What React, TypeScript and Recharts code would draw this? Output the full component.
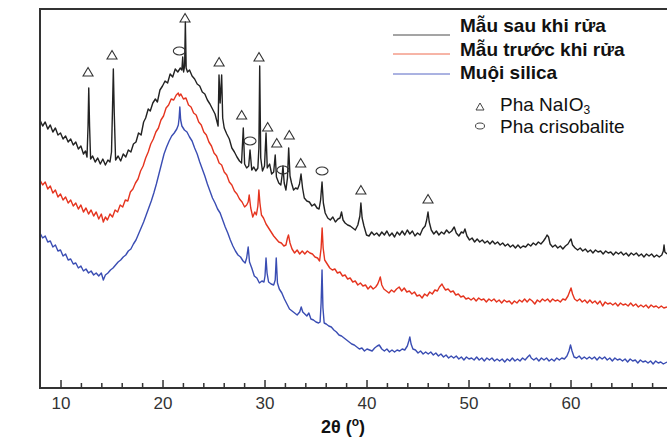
import { ComposedChart, Line, Scatter, XAxis, YAxis, Label } from "recharts";

// 2θ (deg) / intensity (arb. counts)
const sauKhiRua = [
  [7.94, 268], [8.2, 262], [8.45, 266], [8.7, 259], [8.95, 263], [9.2, 256], [9.45, 260], [9.7, 253], [9.95, 255],
  [10.2, 249], [10.45, 252], [10.7, 246], [10.95, 249], [11.2, 243], [11.45, 246], [11.7, 239], [11.95, 242],
  [12.2, 234], [12.4, 237], [12.55, 231], [12.65, 262], [12.72, 300], [12.8, 262], [12.9, 229], [13.1, 232],
  [13.35, 226], [13.6, 230], [13.85, 224], [14.1, 229], [14.35, 223], [14.6, 228], [14.8, 226], [14.95, 236],
  [15.05, 280], [15.13, 319], [15.22, 275], [15.35, 228], [15.6, 232], [15.85, 227], [16.1, 234], [16.35, 231],
  [16.6, 238], [16.85, 236], [17.1, 244], [17.35, 246], [17.6, 255], [17.85, 253], [18.1, 266], [18.3, 270],
  [18.55, 279], [18.75, 277], [19.0, 285], [19.25, 289], [19.45, 286], [19.7, 298], [19.95, 302], [20.2, 307],
  [20.45, 305], [20.7, 314], [20.95, 311], [21.2, 319], [21.45, 316], [21.7, 320], [21.85, 318], [21.93, 331],
  [22.02, 316], [22.12, 322], [22.19, 366], [22.27, 320], [22.4, 316], [22.6, 318], [22.85, 312], [23.1, 309],
  [23.35, 304], [23.6, 302], [23.85, 296], [24.1, 294], [24.35, 288], [24.6, 284], [24.85, 279], [25.1, 274],
  [25.3, 266], [25.4, 262], [25.49, 313], [25.6, 285], [25.75, 313], [25.85, 270], [26.0, 260], [26.25, 254],
  [26.5, 249], [26.75, 240], [27.0, 236], [27.25, 231], [27.5, 227], [27.7, 225], [27.87, 260], [28.0, 224],
  [28.2, 220], [28.4, 222], [28.53, 238], [28.7, 218], [28.9, 221], [29.1, 217], [29.3, 220], [29.4, 240],
  [29.48, 322], [29.58, 230], [29.75, 217], [29.95, 222], [30.1, 255], [30.22, 220], [30.45, 224], [30.65, 214],
  [30.85, 216], [31.0, 233], [31.12, 211], [31.35, 205], [31.55, 203], [31.68, 213], [31.76, 222], [31.88, 205],
  [32.05, 198], [32.2, 210], [32.32, 240], [32.45, 212], [32.6, 205], [32.8, 198], [33.0, 200], [33.2, 199],
  [33.38, 204], [33.53, 214], [33.68, 200], [33.85, 190], [34.1, 187], [34.35, 186], [34.6, 182], [34.85, 184],
  [35.1, 180], [35.3, 179], [35.45, 188], [35.59, 206], [35.72, 185], [35.9, 175], [36.15, 170], [36.4, 168],
  [36.65, 171], [36.9, 166], [37.15, 169], [37.35, 170], [37.5, 176], [37.65, 168], [37.85, 165], [38.1, 163],
  [38.35, 162], [38.6, 160], [38.85, 158], [39.1, 163], [39.3, 172], [39.4, 185], [39.52, 170], [39.7, 162],
  [39.95, 153], [40.2, 152], [40.45, 156], [40.7, 153], [40.95, 155], [41.2, 152], [41.45, 156], [41.7, 153],
  [41.95, 157], [42.2, 152], [42.45, 155], [42.7, 151], [42.95, 156], [43.2, 153], [43.45, 157], [43.7, 153],
  [43.95, 158], [44.2, 154], [44.45, 157], [44.7, 152], [44.95, 155], [45.2, 153], [45.45, 159], [45.7, 162],
  [45.85, 168], [45.98, 176], [46.1, 166], [46.3, 158], [46.55, 154], [46.8, 157], [47.05, 153], [47.3, 156],
  [47.55, 154], [47.8, 158], [48.05, 155], [48.3, 157], [48.55, 161], [48.75, 155], [49.0, 152], [49.25, 156],
  [49.45, 155], [49.6, 159], [49.8, 152], [50.05, 148], [50.3, 150], [50.55, 146], [50.8, 149], [51.05, 146],
  [51.3, 148], [51.55, 145], [51.8, 147], [52.05, 144], [52.3, 147], [52.55, 144], [52.8, 146], [53.05, 143],
  [53.3, 145], [53.55, 142], [53.8, 144], [54.05, 141], [54.3, 143], [54.55, 140], [54.8, 143], [55.05, 140],
  [55.3, 142], [55.55, 141], [55.8, 144], [56.05, 142], [56.3, 145], [56.55, 143], [56.8, 146], [57.05, 144],
  [57.3, 147], [57.5, 150], [57.65, 153], [57.8, 151], [57.95, 144], [58.2, 141], [58.45, 143], [58.7, 140],
  [58.95, 142], [59.2, 139], [59.45, 142], [59.7, 144], [59.87, 147], [60.0, 149], [60.15, 143], [60.4, 140],
  [60.65, 138], [60.9, 140], [61.15, 137], [61.4, 139], [61.65, 136], [61.9, 138], [62.15, 135], [62.4, 138],
  [62.65, 136], [62.9, 137], [63.15, 134], [63.4, 137], [63.65, 135], [63.9, 136], [64.15, 133], [64.4, 136],
  [64.65, 134], [64.9, 136], [65.15, 133], [65.4, 135], [65.65, 132], [65.9, 135], [66.15, 133], [66.4, 135],
  [66.65, 132], [66.9, 134], [67.15, 131], [67.4, 134], [67.65, 132], [67.9, 134], [68.15, 131], [68.4, 133],
  [68.65, 131], [68.9, 133], [69.05, 137], [69.12, 143], [69.2, 136], [69.41, 134],
];

const truocKhiRua = [
  [7.94, 208], [8.2, 203], [8.45, 206], [8.7, 199], [8.95, 202], [9.2, 195], [9.45, 198], [9.7, 191], [9.95, 194],
  [10.2, 188], [10.45, 191], [10.7, 185], [10.95, 188], [11.2, 182], [11.45, 185], [11.7, 179], [11.95, 183],
  [12.2, 176], [12.45, 180], [12.7, 174], [12.95, 178], [13.2, 172], [13.45, 176], [13.7, 169], [13.95, 174],
  [14.15, 166], [14.35, 171], [14.55, 168], [14.8, 174], [15.05, 171], [15.3, 178], [15.55, 176], [15.8, 183],
  [16.05, 181], [16.3, 188], [16.55, 187], [16.8, 196], [17.05, 199], [17.3, 205], [17.55, 209], [17.8, 217],
  [18.05, 222], [18.3, 230], [18.55, 236], [18.8, 244], [19.05, 249], [19.3, 256], [19.55, 260], [19.8, 268],
  [20.05, 272], [20.3, 280], [20.55, 283], [20.8, 289], [21.05, 288], [21.3, 293], [21.5, 295], [21.6, 292],
  [21.75, 294], [22.0, 289], [22.25, 290], [22.5, 283], [22.75, 281], [23.0, 275], [23.25, 273], [23.5, 266],
  [23.75, 263], [24.0, 256], [24.25, 253], [24.5, 246], [24.75, 242], [25.0, 235], [25.25, 232], [25.5, 225],
  [25.75, 223], [26.0, 216], [26.25, 213], [26.5, 206], [26.75, 203], [27.0, 197], [27.25, 194], [27.5, 189],
  [27.75, 186], [28.0, 181], [28.2, 183], [28.35, 186], [28.45, 193], [28.6, 180], [28.8, 171], [29.0, 176],
  [29.15, 173], [29.3, 182], [29.4, 198], [29.5, 185], [29.65, 173], [29.85, 170], [30.1, 164], [30.35, 160],
  [30.6, 156], [30.85, 152], [31.1, 149], [31.35, 146], [31.6, 145], [31.85, 142], [32.05, 143], [32.2, 150],
  [32.3, 153], [32.45, 145], [32.65, 139], [32.9, 135], [33.15, 138], [33.4, 134], [33.65, 137], [33.9, 134],
  [34.15, 137], [34.4, 135], [34.65, 134], [34.9, 131], [35.15, 130], [35.35, 127], [35.5, 140], [35.6, 160],
  [35.7, 140], [35.85, 128], [36.1, 124], [36.35, 120], [36.6, 118], [36.85, 119], [37.1, 115], [37.35, 116],
  [37.6, 112], [37.85, 113], [38.1, 109], [38.35, 110], [38.6, 106], [38.85, 107], [39.1, 103], [39.35, 105],
  [39.6, 102], [39.85, 103], [40.1, 99], [40.35, 102], [40.6, 99], [40.85, 101], [41.05, 104], [41.2, 108],
  [41.3, 111], [41.45, 103], [41.65, 99], [41.9, 97], [42.15, 95], [42.4, 98], [42.65, 96], [42.9, 99],
  [43.15, 101], [43.4, 97], [43.65, 100], [43.9, 96], [44.15, 97], [44.4, 94], [44.65, 96], [44.9, 92],
  [45.15, 93], [45.4, 90], [45.65, 94], [45.9, 92], [46.15, 96], [46.4, 94], [46.65, 98], [46.9, 97],
  [47.1, 101], [47.35, 104], [47.5, 101], [47.7, 98], [47.95, 99], [48.2, 96], [48.45, 97], [48.7, 93],
  [48.95, 94], [49.2, 91], [49.45, 92], [49.7, 89], [49.95, 90], [50.2, 88], [50.45, 90], [50.7, 87],
  [50.95, 90], [51.2, 88], [51.45, 89], [51.7, 86], [51.95, 89], [52.2, 87], [52.45, 89], [52.7, 86],
  [52.95, 88], [53.2, 85], [53.45, 88], [53.7, 86], [53.95, 87], [54.2, 84], [54.45, 87], [54.7, 85],
  [54.95, 88], [55.2, 86], [55.45, 89], [55.7, 86], [55.95, 89], [56.2, 87], [56.45, 84], [56.7, 88],
  [56.95, 86], [57.2, 89], [57.45, 87], [57.7, 89], [57.95, 86], [58.2, 89], [58.45, 87], [58.7, 88],
  [58.95, 86], [59.2, 89], [59.45, 88], [59.7, 92], [59.85, 96], [60.0, 100], [60.15, 94], [60.35, 89],
  [60.6, 87], [60.85, 89], [61.1, 86], [61.35, 88], [61.6, 85], [61.85, 88], [62.1, 85], [62.35, 87],
  [62.6, 84], [62.85, 87], [63.1, 82], [63.35, 86], [63.6, 84], [63.85, 85], [64.1, 83], [64.35, 85],
  [64.6, 82], [64.85, 85], [65.1, 83], [65.35, 84], [65.6, 82], [65.85, 85], [66.1, 82], [66.35, 84],
  [66.6, 81], [66.85, 83], [67.1, 81], [67.35, 83], [67.6, 80], [67.85, 83], [68.1, 81], [68.35, 82],
  [68.6, 80], [68.85, 82], [69.1, 80], [69.41, 81],
];

const muoiSilica = [
  [7.94, 155], [8.2, 150], [8.45, 152], [8.7, 146], [8.95, 147], [9.2, 141], [9.45, 143], [9.7, 137], [9.95, 138],
  [10.2, 132], [10.45, 134], [10.7, 128], [10.95, 129], [11.2, 124], [11.45, 125], [11.7, 120], [11.95, 122],
  [12.2, 117], [12.45, 119], [12.7, 115], [12.95, 117], [13.2, 113], [13.45, 115], [13.7, 112], [13.95, 115],
  [14.15, 108], [14.35, 113], [14.6, 115], [14.85, 118], [15.1, 120], [15.35, 123], [15.6, 126], [15.85, 128],
  [16.1, 131], [16.35, 133], [16.6, 137], [16.85, 139], [17.1, 144], [17.35, 148], [17.6, 154], [17.85, 160],
  [18.1, 166], [18.35, 173], [18.6, 180], [18.85, 187], [19.1, 195], [19.35, 204], [19.6, 214], [19.85, 224],
  [20.1, 234], [20.35, 241], [20.6, 247], [20.85, 252], [21.1, 255], [21.35, 259], [21.5, 263], [21.58, 270],
  [21.65, 281], [21.73, 268], [21.85, 262], [22.1, 258], [22.35, 256], [22.6, 251], [22.85, 247], [23.1, 240],
  [23.35, 234], [23.6, 226], [23.85, 219], [24.1, 212], [24.35, 204], [24.6, 197], [24.85, 190], [25.1, 185],
  [25.35, 179], [25.6, 175], [25.85, 168], [26.1, 161], [26.35, 155], [26.6, 148], [26.85, 142], [27.1, 137],
  [27.35, 133], [27.6, 131], [27.85, 127], [28.05, 125], [28.2, 130], [28.35, 141], [28.48, 126], [28.7, 120],
  [28.95, 112], [29.2, 110], [29.45, 105], [29.7, 107], [29.9, 106], [30.0, 112], [30.1, 130], [30.2, 115],
  [30.35, 106], [30.6, 104], [30.85, 103], [31.0, 108], [31.1, 130], [31.22, 105], [31.4, 99], [31.65, 95],
  [31.9, 89], [32.15, 84], [32.4, 79], [32.65, 77], [32.9, 75], [33.15, 73], [33.4, 76], [33.55, 81],
  [33.7, 76], [33.9, 74], [34.1, 72], [34.3, 75], [34.5, 69], [34.75, 68], [35.0, 66], [35.25, 65],
  [35.4, 66], [35.5, 85], [35.59, 118], [35.68, 80], [35.8, 65], [36.0, 64], [36.25, 62], [36.5, 61],
  [36.75, 58], [37.0, 56], [37.25, 53], [37.5, 52], [37.75, 50], [38.0, 48], [38.25, 46], [38.5, 44],
  [38.75, 43], [39.0, 41], [39.25, 39], [39.5, 40], [39.75, 37], [40.0, 39], [40.25, 38], [40.5, 37],
  [40.75, 40], [41.0, 42], [41.2, 43], [41.45, 39], [41.7, 37], [41.95, 39], [42.2, 36], [42.45, 38],
  [42.7, 36], [42.95, 38], [43.2, 37], [43.45, 39], [43.7, 38], [43.95, 42], [44.1, 47], [44.2, 51],
  [44.32, 44], [44.5, 39], [44.75, 38], [45.0, 35], [45.25, 37], [45.5, 34], [45.75, 36], [46.0, 34],
  [46.25, 36], [46.5, 33], [46.75, 35], [47.0, 32], [47.25, 34], [47.5, 31], [47.75, 33], [48.0, 30],
  [48.25, 32], [48.5, 30], [48.75, 32], [49.0, 29], [49.25, 31], [49.5, 28], [49.75, 31], [50.0, 29],
  [50.25, 30], [50.5, 28], [50.75, 31], [51.0, 28], [51.25, 30], [51.5, 27], [51.75, 30], [52.0, 28],
  [52.25, 30], [52.5, 27], [52.75, 29], [53.0, 27], [53.25, 29], [53.5, 26], [53.75, 29], [54.0, 27],
  [54.25, 30], [54.5, 27], [54.75, 29], [55.0, 27], [55.25, 30], [55.5, 28], [55.75, 31], [55.95, 33],
  [56.1, 30], [56.35, 28], [56.6, 30], [56.85, 27], [57.1, 30], [57.35, 28], [57.6, 30], [57.85, 27],
  [58.1, 29], [58.35, 27], [58.6, 30], [58.85, 28], [59.1, 30], [59.35, 29], [59.6, 32], [59.8, 37],
  [59.95, 43], [60.1, 37], [60.3, 31], [60.55, 30], [60.8, 32], [61.05, 29], [61.3, 31], [61.55, 29],
  [61.8, 31], [62.05, 29], [62.3, 31], [62.55, 28], [62.8, 31], [63.05, 29], [63.3, 31], [63.55, 28],
  [63.8, 30], [64.05, 27], [64.3, 30], [64.55, 28], [64.8, 29], [65.05, 27], [65.3, 29], [65.55, 26],
  [65.8, 29], [66.05, 27], [66.3, 28], [66.55, 25], [66.8, 28], [67.05, 26], [67.3, 27], [67.55, 25],
  [67.8, 27], [68.05, 24], [68.3, 27], [68.55, 25], [68.8, 26], [69.05, 24], [69.41, 26],
];

// phase markers above the peaks
const naio3Marks = [
  [12.65, 316], [15.0, 333], [22.16, 370], [25.5, 326], [27.71, 273], [29.41, 331],
  [30.26, 261], [31.15, 245], [32.38, 253], [33.5, 225], [39.4, 198], [45.98, 189],
];
const crisoMarks = [[21.6, 337], [28.53, 247], [31.76, 218], [35.59, 217]];

const majorTicks = [10, 20, 30, 40, 50, 60];
const xTicks = [10, 12, 14, 16, 18, 20, 22, 24, 26, 28, 30, 32, 34, 36, 38, 40, 42, 44, 46, 48, 50, 52, 54, 56, 58, 60, 62, 64, 66, 68];

const series = [
  { key: "sau", label: "Mẫu sau khi rửa", color: "#222222", legend: "#4a4a4a", data: sauKhiRua },
  { key: "truoc", label: "Mẫu trước khi rửa", color: "#e5341f", legend: "#ee6a4e", data: truocKhiRua },
  { key: "silica", label: "Muội silica", color: "#3a4db3", legend: "#5667c4", data: muoiSilica },
];

const font = "'Liberation Sans', Arial, sans-serif";
const toPoints = (rows: number[][]) => rows.map(([x, y]) => ({ x, y }));

function AxisTick({ x, y, payload }: any) {
  const major = majorTicks.includes(payload.value);
  return (
    <g>
      <line x1={x} x2={x} y1={y} y2={y - (major ? 8 : 5)} stroke="#333" strokeWidth={1.5} />
      {major && (
        <text x={x} y={y + 21} textAnchor="middle" fontSize={17} fontFamily={font} fill="#333">{payload.value}</text>
      )}
    </g>
  );
}

function Triangle({ cx, cy }: any) {
  return <polygon points={`${cx},${cy - 4.5} ${cx + 5},${cy + 4} ${cx - 5},${cy + 4}`} fill="none" stroke="#333" strokeWidth={1.1} />;
}

function Ellipse({ cx, cy }: any) {
  return <ellipse cx={cx} cy={cy} rx={6} ry={4} fill="none" stroke="#333" strokeWidth={1.1} />;
}

function Overlay() {
  const lines = [35, 54, 74];
  const baselines = [32, 55.5, 79];
  return (
    <svg width={667} height={437} style={{ position: "absolute", left: 0, top: 0, pointerEvents: "none" }}>
      {/* plot frame: left and top edges */}
      <line x1={40} x2={667} y1={9} y2={9} stroke="#333" strokeWidth={2} />
      <line x1={40} x2={40} y1={8} y2={389} stroke="#333" strokeWidth={2} />
      {series.map((s, i) => (
        <g key={s.key}>
          <line x1={393} x2={450} y1={lines[i]} y2={lines[i]} stroke={s.legend} strokeWidth={1} />
          <text x={460} y={baselines[i]} fontSize={19} fontWeight="bold" fontFamily={font} fill="#111">{s.label}</text>
        </g>
      ))}
      <polygon points="480,103 484,110 476,110" fill="none" stroke="#444" strokeWidth={1} />
      <text x={500} y={111} fontSize={19} fontFamily={font} fill="#111">
        Pha NaIO<tspan fontSize={12} dy={3}>3</tspan>
      </text>
      <ellipse cx={480} cy={126} rx={4.5} ry={3} fill="none" stroke="#444" strokeWidth={1} />
      <text x={500} y={133} fontSize={19} fontFamily={font} fill="#111">Pha crisobalite</text>
    </svg>
  );
}

export default function App() {
  return (
    <div style={{ position: "absolute", left: 0, top: 0, width: 667, height: 437, background: "#fff" }}>
      <ComposedChart width={667} height={437} margin={{ top: 9, right: 0, bottom: 0, left: 40 }}>
        <XAxis
          type="number"
          dataKey="x"
          domain={[7.94, 69.41]}
          allowDataOverflow
          ticks={xTicks}
          interval={0}
          tick={AxisTick}
          tickLine={false}
          tickSize={0}
          tickMargin={0}
          height={49}
          axisLine={{ stroke: "#333", strokeWidth: 2 }}
        >
          <Label
            content={() => (
              <text x={343} y={433} textAnchor="middle" fontSize={18} fontWeight="bold" fontFamily={font} fill="#111">
                2θ (<tspan fontSize={12} dy={-7}>o</tspan><tspan dy={7}>)</tspan>
              </text>
            )}
          />
        </XAxis>
        <YAxis type="number" dataKey="y" domain={[0, 379]} allowDataOverflow width={0} tick={false} tickLine={false} axisLine={false}>
          <Label
            content={() => (
              <text x={23} y={198} transform="rotate(-90 23 198)" textAnchor="middle" fontSize={16} fontWeight="bold" fontFamily={font} fill="#111">
                Cường độ (số lần đếm/giây)
              </text>
            )}
          />
        </YAxis>
        {series.map((s) => (
          <Line
            key={s.key}
            data={toPoints(s.data)}
            dataKey="y"
            type="linear"
            stroke={s.color}
            strokeWidth={1.4}
            strokeLinejoin="round"
            dot={false}
            activeDot={false}
            isAnimationActive={false}
          />
        ))}
        <Scatter data={toPoints(naio3Marks)} dataKey="y" shape={Triangle} isAnimationActive={false} />
        <Scatter data={toPoints(crisoMarks)} dataKey="y" shape={Ellipse} isAnimationActive={false} />
      </ComposedChart>
      <Overlay />
    </div>
  );
}
